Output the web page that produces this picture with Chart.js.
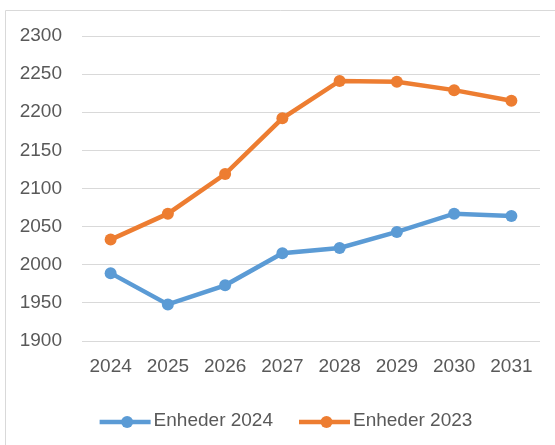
<!DOCTYPE html>
<html>
<head>
<meta charset="utf-8">
<script src="https://cdn.jsdelivr.net/npm/chart.js@4.4.1/dist/chart.umd.min.js"></script>
<style>
  html, body { margin: 0; padding: 0; background: #ffffff; }
  #wrap { position: absolute; left: 0; top: 0; width: 555px; height: 445px; }
</style>
</head>
<body>
<div id="wrap"><canvas id="c" width="555" height="445"></canvas></div>
<script>
const categories = ['2024', '2025', '2026', '2027', '2028', '2029', '2030', '2031'];
const enheder2024 = [1989, 1948, 1973, 2015, 2022, 2043, 2067, 2064];
const enheder2023 = [2033, 2067, 2119, 2192, 2241, 2240, 2229, 2215];
const seriesNames = ['Enheder 2024', 'Enheder 2023'];
const yMin = 1900, yMax = 2300, yStep = 50;

const FONT = '"Liberation Sans", Arial, sans-serif';
const BLUE = '#5B9BD5';
const ORANGE = '#ED7D31';
const TICK = '#595959';
const GRID = '#d9d9d9';

const framePlugin = {
  id: 'frame',
  beforeDraw(chart) {
    const ctx = chart.ctx;
    ctx.save();
    ctx.strokeStyle = GRID;
    ctx.lineWidth = 1;
    ctx.beginPath();
    ctx.moveTo(5.5, 445);
    ctx.lineTo(5.5, 10.5);
    ctx.lineTo(555, 10.5);
    ctx.stroke();
    ctx.restore();
  }
};

const legendPlugin = {
  id: 'customLegend',
  afterDraw(chart) {
    const ctx = chart.ctx;
    ctx.save();
    ctx.font = '19px ' + FONT;
    const lineLen = 51, gapText = 3, gapItem = 26;
    const items = chart.data.datasets.map(ds => ({
      label: ds.label, color: ds.borderColor, w: ctx.measureText(ds.label).width
    }));
    let total = 0;
    items.forEach((it, i) => { total += lineLen + gapText + it.w + (i < items.length - 1 ? gapItem : 0); });
    let x = 286 - total / 2;
    const yLine = 422, yText = 421;
    items.forEach(it => {
      ctx.strokeStyle = it.color;
      ctx.fillStyle = it.color;
      ctx.lineWidth = 4.5;
      ctx.beginPath();
      ctx.moveTo(x, yLine);
      ctx.lineTo(x + lineLen, yLine);
      ctx.stroke();
      ctx.beginPath();
      ctx.arc(x + lineLen / 2 + 2, yLine, 6, 0, Math.PI * 2);
      ctx.fill();
      ctx.fillStyle = TICK;
      ctx.textBaseline = 'middle';
      ctx.textAlign = 'left';
      ctx.fillText(it.label, x + lineLen + gapText, yText);
      x += lineLen + gapText + it.w + gapItem;
    });
    ctx.restore();
  }
};

new Chart(document.getElementById('c'), {
  type: 'line',
  data: {
    labels: categories,
    datasets: [
      {
        label: seriesNames[0], data: enheder2024,
        borderColor: BLUE, backgroundColor: BLUE,
        borderWidth: 4.5, pointRadius: 6, pointBorderWidth: 0,
        pointBackgroundColor: BLUE, tension: 0
      },
      {
        label: seriesNames[1], data: enheder2023,
        borderColor: ORANGE, backgroundColor: ORANGE,
        borderWidth: 4.5, pointRadius: 6, pointBorderWidth: 0,
        pointBackgroundColor: ORANGE, tension: 0
      }
    ]
  },
  options: {
    responsive: false,
    animation: false,
    events: [],
    layout: { padding: { top: 36, right: 15, bottom: 64, left: 0 } },
    plugins: {
      legend: { display: false },
      tooltip: { enabled: false },
      title: { display: false }
    },
    scales: {
      x: {
        offset: true,
        grid: { display: false, drawTicks: false },
        border: { display: false },
        ticks: { color: TICK, font: { family: FONT, size: 19 }, padding: 14, maxRotation: 0 },
        afterFit(scale) { scale.height = 40; }
      },
      y: {
        min: yMin, max: yMax,
        grid: { color: GRID, lineWidth: 1, drawTicks: false },
        border: { display: false },
        ticks: {
          stepSize: yStep, color: TICK, font: { family: FONT, size: 19 }, padding: 20,
          callback: (v) => String(v)
        },
        afterFit(scale) { scale.width = 82; }
      }
    }
  },
  plugins: [framePlugin, legendPlugin]
});
</script>
</body>
</html>
